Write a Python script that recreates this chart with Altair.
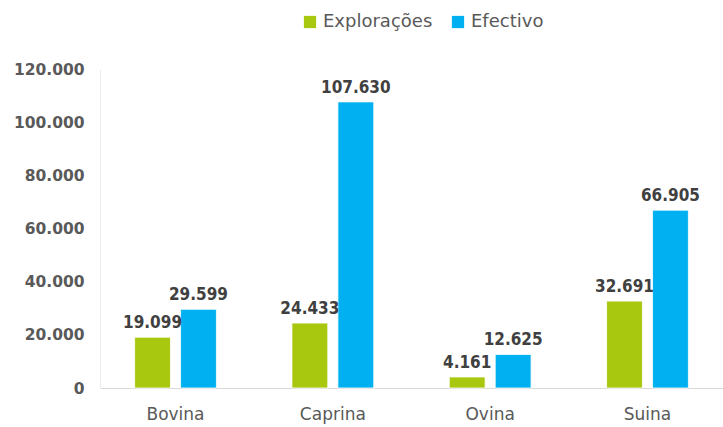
import altair as alt
import pandas as pd

categories = ["Bovina", "Caprina", "Ovina", "Suina"]
series = ["Explorações", "Efectivo"]
exploracoes = [19099, 24433, 4161, 32691]
efectivo = [29599, 107630, 12625, 66905]
colors = ["#A8C80F", "#00B0F0"]

rows = []
for c, e, f in zip(categories, exploracoes, efectivo):
    rows.append({"cat": c, "serie": series[0], "value": e})
    rows.append({"cat": c, "serie": series[1], "value": f})
df = pd.DataFrame(rows)

x = alt.X("cat:N", sort=categories, title=None,
          scale=alt.Scale(paddingInner=0.48, paddingOuter=0.22),
          axis=alt.Axis(labelAngle=0, ticks=False, domainColor="#D9D9D9",
                        labelFont="DejaVu Sans", labelFontSize=17,
                        labelColor="#595959", labelPadding=18))
xo = alt.XOffset("serie:N", sort=series,
                 scale=alt.Scale(paddingInner=0.22, paddingOuter=0))
y = alt.Y("value:Q", title=None,
          scale=alt.Scale(domain=[0, 120000]),
          axis=alt.Axis(values=[0, 20000, 40000, 60000, 80000, 100000, 120000],
                        labelExpr="replace(format(datum.value, ','), ',', '.')",
                        grid=False, ticks=False, domainColor="#EDEDED",
                        labelFont="DejaVu Sans", labelFontWeight="bold",
                        labelFontSize=15.5, labelColor="#595959", labelPadding=16))

color = alt.Color("serie:N", sort=series,
                  scale=alt.Scale(domain=series, range=colors),
                  legend=alt.Legend(title=None, orient="none", direction="horizontal",
                                    legendX=201, legendY=-56,
                                    symbolType="square", symbolSize=150,
                                    symbolStrokeWidth=0,
                                    labelFont="DejaVu Sans", labelFontSize=18,
                                    labelColor="#595959", columnPadding=16,
                                    labelOffset=4))

bars = alt.Chart(df).mark_bar(stroke="white", strokeWidth=0.8).encode(
    x=x, xOffset=xo, y=y, color=color)

labels = alt.Chart(df).transform_calculate(
    lbl="replace(format(datum.value, ','), ',', '.')"
).mark_text(baseline="bottom", dy=-5, font="DejaVu Sans Condensed",
            fontWeight="bold", fontSize=17, color="#404040").encode(
    x=alt.X("cat:N", sort=categories), xOffset=xo, y="value:Q", text="lbl:N")

chart = alt.layer(bars, labels).properties(
    width=623, height=319,
    autosize=alt.AutoSizeParams(type="none"),
    padding={"left": 100, "top": 69, "right": 0, "bottom": 39},
    background="white"
).configure_view(stroke=None)

chart.save("out.html", embed_options={"renderer": "svg", "actions": False})
